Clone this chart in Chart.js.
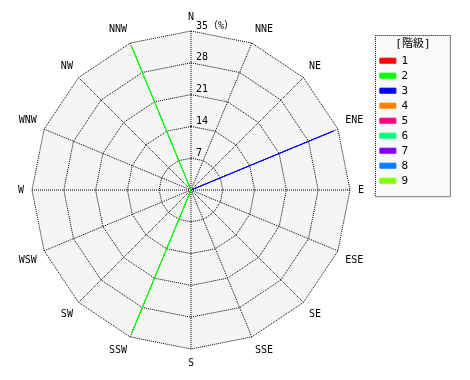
<!DOCTYPE html>
<html>
<head>
<meta charset="utf-8">
<script src="https://cdn.jsdelivr.net/npm/chart.js@4"></script>
<style>
  body { margin: 0; background: #fff; }
  #wrap { width: 470px; height: 380px; }
</style>
</head>
<body>
<div id="wrap"><canvas id="rose" width="470" height="380"></canvas></div>
<script>
// 16 directions, clockwise from north
const directions = ["N", "NNE", "NE", "ENE", "E", "ESE", "SE", "SSE",
                    "S", "SSW", "SW", "WSW", "W", "WNW", "NW", "NNW"];
const classes = ["1", "2", "3", "4", "5", "6", "7", "8", "9"];
const classColors = ["#ff0000", "#00ff00", "#0000ff", "#ff8000", "#ff0080",
                     "#00ff80", "#8000ff", "#0080ff", "#80ff00"];
// frequency (%) per class and direction
const class1 = [0, 0, 0, 0, 0, 0, 0, 0, 0, 0, 0, 0, 0, 0, 0, 0];
const class2 = [0, 0, 0, 0, 0, 0, 0, 0, 0, 34, 0, 0, 0, 0, 0, 34];
const class3 = [0, 0, 0, 34, 0, 0, 0, 0, 0, 0, 0, 0, 0, 0, 0, 0];
const class4 = [0, 0, 0, 0, 0, 0, 0, 0, 0, 0, 0, 0, 0, 0, 0, 0];
const class5 = [0, 0, 0, 0, 0, 0, 0, 0, 0, 0, 0, 0, 0, 0, 0, 0];
const class6 = [0, 0, 0, 0, 0, 0, 0, 0, 0, 0, 0, 0, 0, 0, 0, 0];
const class7 = [0, 0, 0, 0, 0, 0, 0, 0, 0, 0, 0, 0, 0, 0, 0, 0];
const class8 = [0, 0, 0, 0, 0, 0, 0, 0, 0, 0, 0, 0, 0, 0, 0, 0];
const class9 = [0, 0, 0, 0, 0, 0, 0, 0, 0, 0, 0, 0, 0, 0, 0, 0];
const tickValues = [7, 14, 21, 28, 35];
const tickUnit = "（%）";
const legendTitle = "[階級]";

const seriesData = [class1, class2, class3, class4, class5, class6, class7, class8, class9];
const FONT = "'DejaVu Sans Mono', 'Noto Sans CJK JP', monospace";

// dotted frame, grey fill and title for the legend
const legendFrame = {
  id: "legendFrame",
  frame(chart) {
    const lg = chart.legend;
    const boxes = lg.legendHitBoxes;
    const last = boxes[boxes.length - 1];
    const x0 = boxes[0].left - 5;
    return { x0, y0: lg.top + 24, x1: x0 + 76, y1: last.top + last.height + 11 };
  },
  beforeDraw(chart) {
    const lg = chart.legend;
    if (!lg || !lg.legendHitBoxes.length) return;
    const f = this.frame(chart);
    const ctx = chart.ctx;
    ctx.save();
    ctx.fillStyle = "#f8f8f8";
    ctx.fillRect(f.x0, f.y0, f.x1 - f.x0, f.y1 - f.y0);
    ctx.setLineDash([1, 1]);
    ctx.strokeStyle = "#000";
    ctx.lineWidth = 1;
    ctx.strokeRect(f.x0 + 0.5, f.y0 + 0.5, f.x1 - f.x0 - 1, f.y1 - f.y0 - 1);
    ctx.setLineDash([]);
    ctx.fillStyle = "#000";
    ctx.font = "11px " + FONT;
    ctx.textAlign = "center";
    ctx.textBaseline = "middle";
    ctx.fillText(legendTitle, (f.x0 + f.x1) / 2, f.y0 + 9);
    ctx.restore();
  }
};

// tick labels to the right of the north axis
const tickText = {
  id: "tickText",
  afterDatasetsDraw(chart) {
    const r = chart.scales.r;
    const ctx = chart.ctx;
    ctx.save();
    ctx.font = "10px " + FONT;
    ctx.fillStyle = "#000";
    ctx.textAlign = "left";
    ctx.textBaseline = "bottom";
    tickValues.forEach((v, i) => {
      const d = r.getDistanceFromCenterForValue(v);
      let txt = String(v);
      if (i === tickValues.length - 1) txt += tickUnit;
      ctx.fillText(txt, r.xCenter + 5, r.yCenter - d);
    });
    ctx.restore();
  }
};

new Chart(document.getElementById("rose"), {
  type: "radar",
  data: {
    labels: directions,
    datasets: classes.map((c, i) => ({
      label: c,
      data: seriesData[i],
      borderColor: classColors[i],
      backgroundColor: classColors[i],
      borderWidth: 1,
      fill: false,
      pointRadius: 0,
      tension: 0
    }))
  },
  options: {
    responsive: false,
    animation: false,
    devicePixelRatio: 1,
    layout: { padding: { left: 7, right: 52, top: 11, bottom: 11 } },
    plugins: {
      tooltip: { enabled: false },
      legend: {
        position: "right",
        align: "start",
        title: {
          display: true,
          text: " ",
          color: "rgba(0,0,0,0)",
          font: { family: FONT, size: 11 },
          padding: { top: 27, bottom: 0 }
        },
        labels: {
          color: "#000",
          boxWidth: 16,
          boxHeight: 5,
          padding: 4,
          font: { family: FONT, size: 11 }
        }
      }
    },
    scales: {
      r: {
        min: 0,
        max: 35,
        backgroundColor: "#f5f5f5",
        ticks: { stepSize: 7, display: false },
        grid: { color: "#000", lineWidth: 1 },
        border: { dash: [1, 1] },
        angleLines: { color: "#000", borderDash: [1, 1], lineWidth: 1 },
        pointLabels: {
          color: "#000",
          padding: 8,
          font: { family: FONT, size: 10 }
        }
      }
    }
  },
  plugins: [legendFrame, tickText]
});
</script>
</body>
</html>
